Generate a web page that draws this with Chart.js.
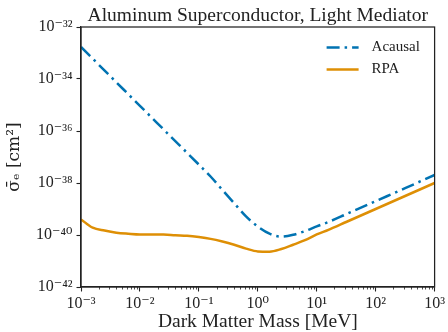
<!DOCTYPE html>
<html>
<head>
<meta charset="utf-8">
<script src="https://cdn.jsdelivr.net/npm/chart.js@4.4.1/dist/chart.umd.min.js"></script>
<style>
  html, body { margin: 0; padding: 0; background: #fff; }
</style>
</head>
<body>
<canvas id="sigmaChart" width="448" height="332"></canvas>
<script>
// reach of the acausal calculation, mass in MeV vs cross section in cm^2
const acausalMass = [1e-3, 3.16e-3, 1e-2, 3.16e-2, 0.1, 0.158, 0.251, 0.398, 0.631, 1,
                     1.58, 2.51, 3.98, 6.31, 10, 15.8, 31.6, 100, 316, 1000];
const acausalSigma = [1.70e-33, 1.26e-34, 9.3e-36, 6.9e-37, 5.1e-38, 1.78e-38, 5.4e-39, 1.66e-39, 5.2e-40, 2.1e-40,
                      1.12e-40, 8.7e-41, 1.02e-40, 1.41e-40, 2.14e-40, 3.16e-40, 6.3e-40, 2.0e-39, 6.3e-39, 2.04e-38];

// reach with the RPA dielectric
const rpaMass = [1e-3, 1.58e-3, 2.51e-3, 3.98e-3, 6.31e-3, 1e-2, 1.58e-2, 2.51e-2, 3.98e-2, 6.31e-2,
                 0.1, 0.158, 0.251, 0.398, 0.631, 1, 1.58, 2.51, 3.98, 6.31,
                 10, 15.8, 31.6, 100, 316, 1000];
const rpaSigma = [3.98e-40, 1.91e-40, 1.48e-40, 1.23e-40, 1.12e-40, 1.05e-40, 1.05e-40, 1.05e-40, 9.8e-41, 9.3e-41,
                  8.3e-41, 7.1e-41, 5.6e-41, 4.2e-41, 3.0e-41, 2.34e-41, 2.29e-41, 2.88e-41, 4.2e-41, 6.3e-41,
                  1.05e-40, 1.58e-40, 3.16e-40, 1.0e-39, 3.16e-39, 1.0e-38];

const xTicks = [1e-3, 1e-2, 1e-1, 1, 10, 100, 1000];
const yTicks = [1e-42, 1e-40, 1e-38, 1e-36, 1e-34, 1e-32];

const serif = "'Liberation Serif', 'DejaVu Serif', serif";
const ink = '#222';

const sup = { '0': '⁰', '1': '¹', '2': '²', '3': '³', '4': '⁴', '5': '⁵',
              '6': '⁶', '7': '⁷', '8': '⁸', '9': '⁹', '-': '⁻' };
function powerLabel(v) {
  const e = Math.round(Math.log10(v));
  return '10' + String(e).split('').map(c => sup[c]).join('');
}

function points(xs, ys) {
  return xs.map((x, i) => ({ x: x, y: ys[i] }));
}

// frame on all four sides, plus small minor ticks under the x axis
const frameAndMinor = {
  id: 'frameAndMinor',
  afterDraw(chart) {
    const { ctx, chartArea: a } = chart;
    const xs = chart.scales.x;
    ctx.save();
    ctx.strokeStyle = ink;
    ctx.lineWidth = 1.25;
    ctx.strokeRect(a.left, a.top, a.right - a.left, a.bottom - a.top);
    ctx.lineWidth = 0.8;
    ctx.beginPath();
    for (let e = -3; e < 3; e++) {
      for (let k = 2; k <= 9; k++) {
        const px = Math.round(xs.getPixelForValue(k * Math.pow(10, e))) + 0.5;
        ctx.moveTo(px, a.bottom);
        ctx.lineTo(px, a.bottom + 2.5);
      }
    }
    ctx.stroke();
    ctx.restore();
  }
};

// legend sitting in the upper right corner of the plot
const cornerLegend = {
  id: 'cornerLegend',
  afterDraw(chart) {
    const { ctx, chartArea: a } = chart;
    ctx.save();
    chart.data.datasets.forEach((ds, i) => {
      const y = a.top + 20.5 + i * 22;
      ctx.strokeStyle = ds.borderColor;
      ctx.lineWidth = ds.borderWidth;
      ctx.setLineDash(ds.borderDash || []);
      ctx.beginPath();
      ctx.moveTo(a.right - 108, y);
      ctx.lineTo(a.right - 76, y);
      ctx.stroke();
      ctx.setLineDash([]);
      ctx.fillStyle = ink;
      ctx.font = '15px ' + serif;
      ctx.textBaseline = 'middle';
      ctx.textAlign = 'left';
      ctx.fillText(ds.label, a.right - 63, y);
    });
    ctx.restore();
  }
};

new Chart(document.getElementById('sigmaChart'), {
  type: 'line',
  data: {
    datasets: [
      {
        label: 'Acausal',
        data: points(acausalMass, acausalSigma),
        borderColor: '#0173b2',
        borderWidth: 2.5,
        borderDash: [13, 5, 2.5, 5],
        pointRadius: 0,
        cubicInterpolationMode: 'monotone'
      },
      {
        label: 'RPA',
        data: points(rpaMass, rpaSigma),
        borderColor: '#de8f05',
        borderWidth: 2.5,
        pointRadius: 0,
        cubicInterpolationMode: 'monotone'
      }
    ]
  },
  options: {
    responsive: false,
    animation: false,
    layout: { padding: { top: 0, right: 12, left: 0, bottom: 0 } },
    plugins: {
      legend: { display: false },
      tooltip: { enabled: false },
      title: {
        display: true,
        fullSize: false,
        text: 'Aluminum Superconductor, Light Mediator',
        color: ink,
        font: { family: serif, size: 19.5, weight: 'normal', lineHeight: 1.0 },
        padding: { top: 6.6, bottom: 0.9 }
      }
    },
    scales: {
      x: {
        type: 'logarithmic',
        min: 1e-3,
        max: 1e3,
        afterBuildTicks: s => { s.ticks = xTicks.map(v => ({ value: v, major: true })); },
        afterFit: s => { s.height = 45; },
        ticks: {
          callback: v => powerLabel(v),
          autoSkip: false,
          maxRotation: 0,
          padding: 3,
          color: ink,
          font: { family: serif, size: 16 }
        },
        grid: { drawOnChartArea: false, tickLength: 4.5, tickColor: ink, tickWidth: 1.1 },
        border: { color: ink, width: 1.25 },
        title: {
          display: true,
          text: 'Dark Matter Mass [MeV]',
          color: ink,
          font: { family: serif, size: 19.5, lineHeight: 1.0 },
          padding: { top: 0, bottom: 0 }
        }
      },
      y: {
        type: 'logarithmic',
        min: 1e-42,
        max: 1e-32,
        afterBuildTicks: s => { s.ticks = yTicks.map(v => ({ value: v, major: true })); },
        afterFit: s => { s.width = 81; },
        ticks: {
          callback: v => powerLabel(v),
          autoSkip: false,
          padding: 4,
          color: ink,
          font: { family: serif, size: 16 }
        },
        grid: { drawOnChartArea: false, tickLength: 4.5, tickColor: ink, tickWidth: 1.1 },
        border: { color: ink, width: 1.25 },
        title: {
          display: true,
          text: 'σ̄ₑ [cm²]',
          color: ink,
          font: { family: "'DejaVu Serif', serif", size: 17, lineHeight: 1.0 },
          padding: { top: 6, bottom: 0 }
        }
      }
    }
  },
  plugins: [frameAndMinor, cornerLegend]
});
</script>
</body>
</html>
